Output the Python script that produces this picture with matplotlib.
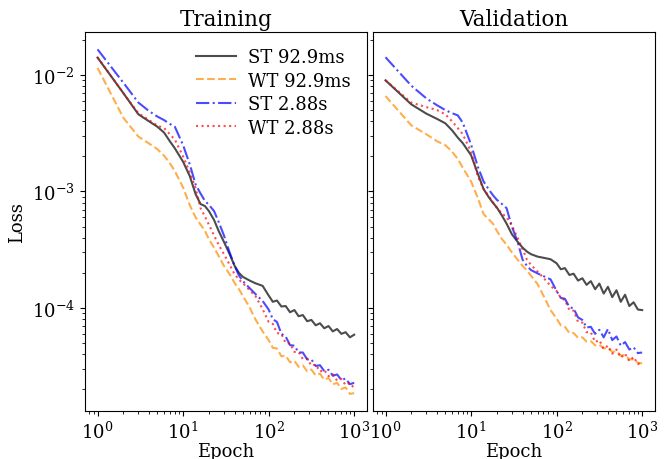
import matplotlib
matplotlib.use("Agg")
import matplotlib.pyplot as plt

plt.rcParams['font.family'] = ['DejaVu Serif']
plt.rcParams['mathtext.fontset'] = 'dejavuserif'

epochs = [1, 2, 3, 4, 5, 6, 7, 8, 10, 12, 14, 16, 18, 20, 23, 26, 30, 35, 40, 45, 50, 60, 70, 85,
          100, 112, 125, 141, 158, 178, 200, 224, 251, 282, 316, 355, 398, 447, 501, 562, 631, 708, 794, 891, 1000]

labels = ["ST 92.9ms", "WT 92.9ms", "ST 2.88s", "WT 2.88s"]
titles = ["Training", "Validation"]

# Training
tr_st_short = [0.0141, 0.0070, 0.0046, 0.0040, 0.0036, 0.0032, 0.0027, 0.00235, 0.0018, 0.00135, 0.00095, 0.00078,
               0.00075, 0.00068, 0.00057, 0.00046, 0.00037, 0.00029, 0.00023, 0.00020, 0.000185, 0.000172, 0.000163, 0.000155,
               1.28e-4, 1.13e-4, 1.16e-4, 1.03e-4, 1.04e-4, 9.2e-5, 9.6e-5, 8.5e-5, 8.7e-5, 7.7e-5, 7.9e-5, 7.1e-5,
               7.4e-5, 6.7e-5, 7.0e-5, 6.3e-5, 6.6e-5, 6.0e-5, 6.2e-5, 5.6e-5, 5.9e-5]
tr_wt_short = [0.0115, 0.0043, 0.00296, 0.00258, 0.00231, 0.00203, 0.00175, 0.0015, 0.00108, 0.00076, 0.00060, 0.00052,
               0.00046, 0.00039, 0.00033, 0.00028, 0.00023, 0.000195, 0.000164, 0.000145, 0.000127, 0.000101, 8.0e-5, 6.3e-5,
               5.3e-5, 4.55e-5, 4.5e-5, 3.85e-5, 3.9e-5, 3.42e-5, 3.52e-5, 3.13e-5, 3.22e-5, 2.86e-5, 2.96e-5, 2.64e-5,
               2.73e-5, 2.42e-5, 2.51e-5, 2.21e-5, 2.28e-5, 2.02e-5, 2.08e-5, 1.83e-5, 1.86e-5]
tr_st_long = [0.0166, 0.0086, 0.0058, 0.0049, 0.0044, 0.0041, 0.0038, 0.0036, 0.0025, 0.0017, 0.00115, 0.00096,
              0.00083, 0.00077, 0.00068, 0.00055, 0.00042, 0.00030, 0.00023, 0.00019, 0.00017, 0.000148, 0.000132, 0.000115,
              9.7e-5, 8.0e-5, 7.6e-5, 6.0e-5, 5.7e-5, 4.8e-5, 4.75e-5, 4.15e-5, 4.15e-5, 3.62e-5, 3.62e-5, 3.18e-5,
              3.23e-5, 2.87e-5, 2.95e-5, 2.62e-5, 2.69e-5, 2.41e-5, 2.48e-5, 2.22e-5, 2.28e-5]
tr_wt_long = [0.0142, 0.0070, 0.0047, 0.0041, 0.00368, 0.0035, 0.0031, 0.0028, 0.0020, 0.00146, 0.00107, 0.00072,
              0.00061, 0.00052, 0.00042, 0.00035, 0.00029, 0.000235, 0.000195, 0.000175, 0.000163, 0.000142, 0.000127, 9.8e-5,
              7.6e-5, 7.3e-5, 6.1e-5, 6.0e-5, 5.0e-5, 4.95e-5, 4.2e-5, 4.2e-5, 3.65e-5, 3.68e-5, 3.2e-5, 3.27e-5,
              2.85e-5, 2.94e-5, 2.6e-5, 2.7e-5, 2.38e-5, 2.46e-5, 2.18e-5, 2.27e-5, 2.05e-5]

# Validation
va_st_short = [0.0090, 0.0056, 0.00466, 0.0042, 0.00385, 0.00335, 0.0029, 0.0026, 0.00205, 0.00142, 0.00105, 0.00090,
               0.0008, 0.00073, 0.00062, 0.00053, 0.00043, 0.00037, 0.00033, 0.000305, 0.00029, 0.000276, 0.00027, 0.000262,
               2.42e-4, 2.15e-4, 2.2e-4, 1.92e-4, 1.97e-4, 1.72e-4, 1.8e-4, 1.58e-4, 1.7e-4, 1.45e-4, 1.62e-4, 1.33e-4,
               1.52e-4, 1.24e-4, 1.42e-4, 1.13e-4, 1.3e-4, 1.04e-4, 1.12e-4, 9.7e-5, 9.6e-5]
va_wt_short = [0.0066, 0.0037, 0.0031, 0.0027, 0.0025, 0.0022, 0.0019, 0.0016, 0.00122, 0.00088, 0.00064, 0.00058,
               0.00053, 0.00046, 0.00039, 0.00035, 0.00030, 0.00026, 0.00023, 0.00021, 0.00019, 0.00016, 0.000128, 9.6e-5,
               8.1e-5, 7.1e-5, 6.9e-5, 6.1e-5, 6.1e-5, 5.55e-5, 5.6e-5, 5.15e-5, 5.2e-5, 4.78e-5, 4.85e-5, 4.5e-5,
               4.55e-5, 4.2e-5, 4.25e-5, 3.9e-5, 3.95e-5, 3.62e-5, 3.63e-5, 3.38e-5, 3.35e-5]
va_st_long = [0.0142, 0.0081, 0.0063, 0.0055, 0.0050, 0.0047, 0.0045, 0.0039, 0.00253, 0.00163, 0.00122, 0.00105,
              0.00093, 0.00085, 0.00078, 0.00072, 0.0005, 0.00037, 0.00026, 0.00023, 0.000212, 0.000198, 0.000188, 0.000176,
              1.4e-4, 1.22e-4, 1.2e-4, 1.02e-4, 9.9e-5, 8.3e-5, 7.9e-5, 6.8e-5, 6.9e-5, 6.0e-5, 6.5e-5, 5.6e-5,
              6.6e-5, 5.3e-5, 5.7e-5, 4.75e-5, 5.1e-5, 4.4e-5, 4.6e-5, 4.1e-5, 4.15e-5]
va_wt_long = [0.0090, 0.0058, 0.0053, 0.0050, 0.0046, 0.0040, 0.0035, 0.0031, 0.0022, 0.00135, 0.00105, 0.00092,
              0.00081, 0.00072, 0.00065, 0.0006, 0.00051, 0.0004, 0.00032, 0.00026, 0.000235, 0.000205, 0.000182, 0.000155,
              1.4e-4, 1.22e-4, 1.17e-4, 9.6e-5, 9.5e-5, 7.6e-5, 7.5e-5, 6.2e-5, 6.2e-5, 5.1e-5, 5.3e-5, 4.45e-5,
              4.75e-5, 4.05e-5, 4.4e-5, 3.75e-5, 4.05e-5, 3.5e-5, 3.8e-5, 3.3e-5, 3.45e-5]

panels = [[tr_st_short, tr_wt_short, tr_st_long, tr_wt_long],
          [va_st_short, va_wt_short, va_st_long, va_wt_long]]

colors = ['black', 'darkorange', 'blue', 'red']
styles = ['-', '--', '-.', ':']

fig, axes = plt.subplots(1, 2, sharey=True, figsize=(6.67, 4.6), dpi=100)
fig.subplots_adjust(left=0.127, right=0.982, top=0.928, bottom=0.104, wspace=0.02)

for ax, series, title in zip(axes, panels, titles):
    for vals, c, ls, lab in zip(series, colors, styles, labels):
        ax.plot(epochs, vals, color=c, linestyle=ls, linewidth=1.5, alpha=0.7, label=lab)
    ax.set_xscale('log')
    ax.set_yscale('log')
    ax.set_title(title, fontsize=15.5, pad=5)
    ax.set_xlabel('Epoch', fontsize=13, labelpad=0)
    ax.tick_params(labelsize=13)

axes[0].set_ylabel('Loss', fontsize=13)
axes[0].legend(loc='upper right', frameon=False, fontsize=13, labelspacing=0.3,
               handlelength=2.2, handletextpad=0.7)

fig.savefig('out.png', dpi=100)
